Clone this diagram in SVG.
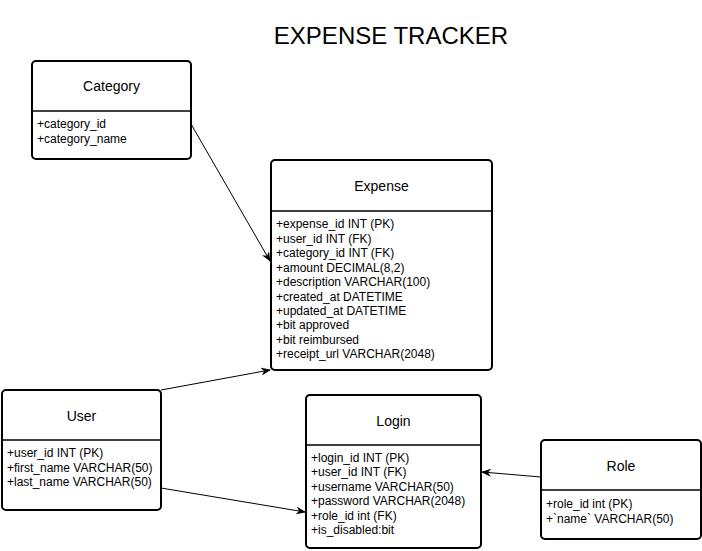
<svg xmlns="http://www.w3.org/2000/svg" width="702" height="551" viewBox="0 0 702 551">
<style>
.box{fill:#fff;stroke:#000;stroke-width:2}
.div{stroke:#000;stroke-width:1.5}
.t{font-family:"Liberation Sans",Arial,sans-serif;font-size:14px;text-anchor:middle;fill:#000}
.a{font-family:"Liberation Sans",Arial,sans-serif;font-size:12px;fill:#000}
.c{stroke:#000;stroke-width:1;fill:none;marker-end:url(#arr)}
</style>
<defs>
<marker id="arr" viewBox="0 0 10 8" refX="9" refY="4" markerWidth="10" markerHeight="8" markerUnits="userSpaceOnUse" orient="auto">
<path d="M0,0 L10,4 L0,8 L3,4 z" fill="#000"/>
</marker>
</defs>
<rect width="702" height="551" fill="#fff"/>
<text x="391" y="44" font-family="Liberation Sans, Arial, sans-serif" font-size="24" text-anchor="middle">EXPENSE TRACKER</text>
<g id="connectors">
<line class="c" x1="191" y1="124" x2="270" y2="261"/>
<line class="c" x1="161" y1="390" x2="270" y2="370"/>
<line class="c" x1="161" y1="488" x2="305" y2="512"/>
<line class="c" x1="541" y1="477" x2="482" y2="472"/>
</g>
<g id="category">
<rect class="box" x="32" y="61" width="159" height="98" rx="4"/>
<line class="div" x1="32" y1="111" x2="191" y2="111"/>
<text class="t" x="111.5" y="91">Category</text>
<text class="a" x="37" y="128">+category_id</text>
<text class="a" x="37" y="143">+category_name</text>
</g>
<g id="expense">
<rect class="box" x="271" y="160" width="221" height="210" rx="4"/>
<line class="div" x1="271" y1="211" x2="492" y2="211"/>
<text class="t" x="381.5" y="191">Expense</text>
<text class="a" x="276" y="228">+expense_id INT (PK)</text>
<text class="a" x="276" y="243">+user_id INT (FK)</text>
<text class="a" x="276" y="257">+category_id INT (FK)</text>
<text class="a" x="276" y="272">+amount DECIMAL(8,2)</text>
<text class="a" x="276" y="286">+description VARCHAR(100)</text>
<text class="a" x="276" y="301">+created_at DATETIME</text>
<text class="a" x="276" y="315">+updated_at DATETIME</text>
<text class="a" x="276" y="329">+bit approved</text>
<text class="a" x="276" y="344">+bit reimbursed</text>
<text class="a" x="276" y="358">+receipt_url VARCHAR(2048)</text>
</g>
<g id="user">
<rect class="box" x="2" y="390" width="159" height="120" rx="4"/>
<line class="div" x1="2" y1="440" x2="161" y2="440"/>
<text class="t" x="81.5" y="421">User</text>
<text class="a" x="7" y="457">+user_id INT (PK)</text>
<text class="a" x="7" y="472">+first_name VARCHAR(50)</text>
<text class="a" x="7" y="486">+last_name VARCHAR(50)</text>
</g>
<g id="login">
<rect class="box" x="306" y="395" width="175" height="153" rx="4"/>
<line class="div" x1="306" y1="445" x2="481" y2="445"/>
<text class="t" x="393.5" y="426">Login</text>
<text class="a" x="311" y="462">+login_id INT (PK)</text>
<text class="a" x="311" y="476">+user_id INT (FK)</text>
<text class="a" x="311" y="491">+username VARCHAR(50)</text>
<text class="a" x="311" y="505">+password VARCHAR(2048)</text>
<text class="a" x="311" y="520">+role_id int (FK)</text>
<text class="a" x="311" y="534">+is_disabled:bit</text>
</g>
<g id="role">
<rect class="box" x="541" y="440" width="160" height="99" rx="4"/>
<line class="div" x1="541" y1="490" x2="701" y2="490"/>
<text class="t" x="621" y="471">Role</text>
<text class="a" x="546" y="508">+role_id int (PK)</text>
<text class="a" x="546" y="523">+`name` VARCHAR(50)</text>
</g>
</svg>
